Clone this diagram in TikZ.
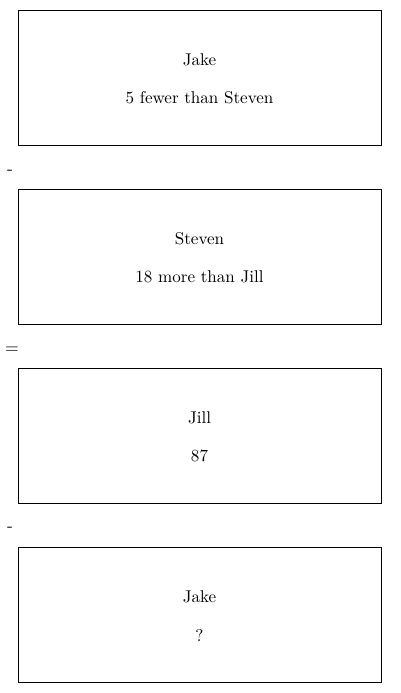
\documentclass[tikz,border=0pt]{standalone}
\usepackage{tikz}
\usetikzlibrary{positioning}

\begin{document}
\begin{tikzpicture}[
    x=0.02cm, y=-0.02cm,
    qbox/.style   = {draw=black, line width=0.5pt, minimum width=7.26cm, minimum height=2.7cm, inner sep=0pt},
    qtext/.style  = {align=center, inner sep=0pt, font=\fontsize{9.7}{11.6}\selectfont},
    opsign/.style = {font=\normalsize, inner sep=0pt}
  ]
  \useasboundingbox (0,0) rectangle (400,693);

  \node[qbox] (jake)   at (199.5, 77.5)  {};
  \node[qbox] (steven) at (199.5, 256.5) {};
  \node[qbox] (jill)   at (199.5, 435.5) {};
  \node[qbox] (ask)    at (199.5, 614.5) {};

  \node[qtext] (jakeTxt)   at ([yshift=-0.025cm]jake.center)   {Jake\\[10.5pt]5 fewer than Steven};
  \node[qtext] (stevenTxt) at ([yshift=-0.025cm]steven.center) {Steven\\[10.5pt]18 more than Jill};
  \node[qtext] (jillTxt)   at ([yshift=-0.025cm]jill.center)   {Jill\\[10.5pt]87};
  \node[qtext] (askTxt)    at ([yshift=-0.025cm]ask.center)    {Jake\\[10.5pt]?};

  \node[opsign] (minusA) at (10, 172) {-};
  \node[opsign] (equals) at (12, 350) {=};
  \node[opsign] (minusB) at (10, 529) {-};
\end{tikzpicture}
\end{document}
